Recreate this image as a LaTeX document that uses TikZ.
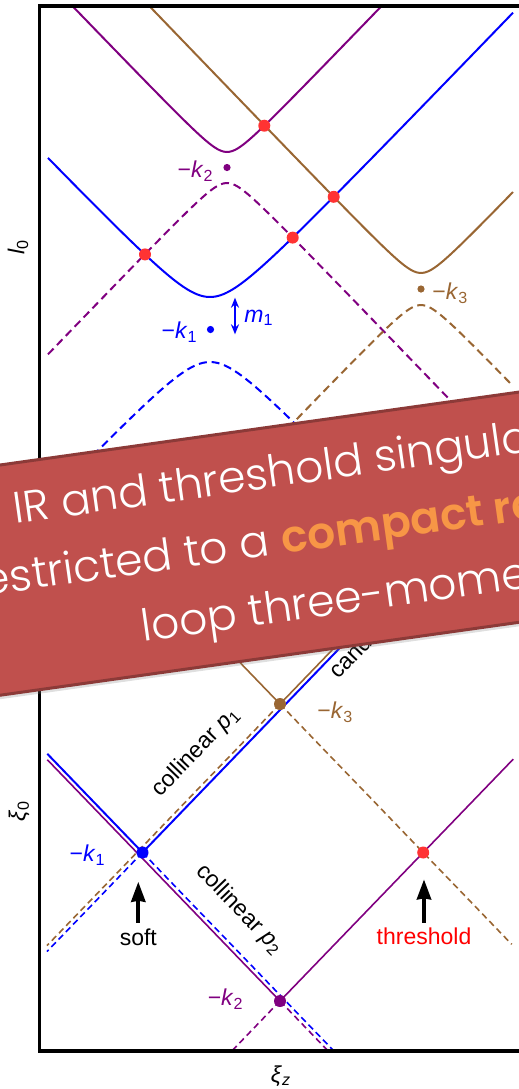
\documentclass[tikz,border=0pt]{standalone}
\usepackage{fontspec}
\setsansfont{Liberation Sans}
\newfontfamily\bannerfont{Poppins Light}[BoldFont={Poppins SemiBold}]
\usetikzlibrary{arrows.meta, shadows, positioning}
\definecolor{lineblue}{rgb}{0,0,1}
\definecolor{linepurple}{rgb}{0.5,0,0.5}
\definecolor{linebrown}{rgb}{0.6,0.4,0.2}
\definecolor{dotred}{rgb}{1,0.2,0.2}
\definecolor{bannerred}{RGB}{192,80,77}
\definecolor{bannerdark}{RGB}{140,58,56}
\definecolor{bannerorange}{RGB}{247,150,70}
\tikzstyle{frame} = [line width=1.75pt]
\tikzstyle{solidcurve} = [line width=1pt]
\tikzstyle{dashedcurve} = [line width=1pt, dash pattern=on 4pt off 2.4pt]
\tikzstyle{thinline} = [line width=0.8pt]
\tikzstyle{thindashed} = [line width=0.8pt, dash pattern=on 3.2pt off 2pt]
\tikzstyle{bigdot} = [circle, inner sep=0pt, minimum size=6pt]
\tikzstyle{smalldot} = [circle, inner sep=0pt, minimum size=3.6pt]
\tikzstyle{lab} = [inner sep=0pt, font=\sffamily\fontsize{11.5}{13}\selectfont]
\tikzstyle{arrow} = [line width=2pt, -{Stealth[length=10pt, width=7pt, inset=0.5pt]}]
\tikzstyle{dblarrow} = [line width=1pt, {Stealth[length=5pt, width=4pt]}-{Stealth[length=5pt, width=4pt]}]
\tikzstyle{banner} = [fill=bannerred, draw=bannerdark, line width=1.5pt, drop shadow={opacity=0.25, shadow xshift=0pt, shadow yshift=-2pt}]
\tikzstyle{bannertext} = [inner sep=0pt, transform shape, text=white, font=\bannerfont\fontsize{22}{26}\selectfont]

\newcommand{\negk}[1]{−\textit{k}\textsubscript{#1}}

\begin{document}
\begin{tikzpicture}[x=0.5pt, y=-0.5pt]
\useasboundingbox (0,0) rectangle (519,1089);
\clip (0,0) rectangle (519,1089);

% Massive case: hyperbolas
\begin{scope}
\clip (39.5,6) rectangle (560,530);
\draw[solidcurve, lineblue] plot[domain=48:513, samples=160, smooth] (\x, {329.5-10.4*sqrt(((\x-210)/10)*((\x-210)/10)+9.766)});
\draw[dashedcurve, lineblue] plot[domain=48:513, samples=160, smooth] (\x, {329.5+10.4*sqrt(((\x-210)/10)*((\x-210)/10)+9.766)});
\draw[solidcurve, linepurple] plot[domain=48:513, samples=160, smooth] (\x, {167.5-10.4*sqrt(((\x-227)/10)*((\x-227)/10)+2.22)});
\draw[dashedcurve, linepurple] plot[domain=48:513, samples=160, smooth] (\x, {167.5+10.4*sqrt(((\x-227)/10)*((\x-227)/10)+2.22)});
\draw[solidcurve, linebrown] plot[domain=48:513, samples=160, smooth] (\x, {289-10.4*sqrt(((\x-421)/10)*((\x-421)/10)+2.372)});
\draw[dashedcurve, linebrown] plot[domain=48:513, samples=160, smooth] (\x, {289+10.4*sqrt(((\x-421)/10)*((\x-421)/10)+2.372)});
\end{scope}
\draw[frame] (39.5,6) rectangle (560,530);

\node[bigdot, fill=dotred] (rone) at (264.3,125.7) {};
\node[bigdot, fill=dotred] (rtwo) at (333.7,196.8) {};
\node[bigdot, fill=dotred] (rthree) at (292.7,237.6) {};
\node[bigdot, fill=dotred] (rfour) at (145,254.4) {};
\node[smalldot, fill=linepurple] (ktwo) at (227,167.5) {};
\node[smalldot, fill=lineblue] (kone) at (210.5,329.5) {};
\node[smalldot, fill=linebrown] (kthree) at (421,289) {};

\node[lab, text=linepurple, anchor=east] (ktwolab) at (214,171) {\negk{2}};
\node[lab, text=linebrown, anchor=west] (kthreelab) at (432,293) {\negk{3}};
\node[lab, text=lineblue, anchor=east] (konelab) at (198,332) {\negk{1}};
\coordinate (mtop) at (235,297.7);
\coordinate (mbot) at (235,334.3);
\draw[dblarrow, lineblue] (mtop) -- (mbot);
\node[lab, text=lineblue, anchor=west] (mlab) at (244,318) {\textit{m}\textsubscript{1}};
\node[lab, rotate=90] (lzero) at (18,247) {\textit{l}\textsubscript{0}};

% Massless case: light cones
\coordinate (B) at (142.5,852.5);
\coordinate (P) at (280,1001);
\coordinate (K) at (280,704);
\coordinate (T) at (423.2,852.5);
\coordinate (bul) at (47.3,753.8);
\coordinate (bur) at (424.6,560);
\coordinate (bdl) at (47,951.5);
\coordinate (bdr) at (342.6,1060);
\coordinate (pul) at (47.3,759.7);
\coordinate (pur) at (513.3,759.1);
\coordinate (pdl) at (223.1,1060);
\coordinate (pdr) at (336.9,1060);
\coordinate (kul) at (141.1,560);
\coordinate (kur) at (418.9,560);
\coordinate (kdl) at (47,945.6);
\coordinate (kdr) at (511.7,944.3);
\begin{scope}
\clip (39.5,575) rectangle (560,1051);
\draw[thindashed, linebrown] (K) -- (kdl);
\draw[thindashed, linebrown] (K) -- (kdr);
\draw[thinline, linebrown] (K) -- (kul);
\draw[thinline, linebrown] (K) -- (kur);
\draw[thinline, linepurple] (P) -- (pul);
\draw[thinline, linepurple] (P) -- (pur);
\draw[thindashed, linepurple] (P) -- (pdl);
\draw[thindashed, linepurple] (P) -- (pdr);
\draw[solidcurve, lineblue] (B) -- (bul);
\draw[solidcurve, lineblue] (B) -- (bur);
\draw[thindashed, lineblue] (B) -- (bdl);
\draw[thindashed, lineblue] (B) -- (bdr);
\end{scope}
\draw[frame] (39.5,575) rectangle (560,1051);

\node[bigdot, fill=lineblue] (bdot) at (B) {};
\node[bigdot, fill=linepurple] (pdot) at (P) {};
\node[bigdot, fill=linebrown] (kdot) at (K) {};
\node[bigdot, fill=dotred] (tdot) at (T) {};

\node[lab, text=lineblue, anchor=east] (blab) at (106,855) {\negk{1}};
\node[lab, text=linepurple, anchor=east] (plab) at (244,999) {\negk{2}};
\node[lab, text=linebrown, anchor=west] (klab) at (317,712) {\negk{3}};
\node[lab, rotate=46, anchor=base west] (colone) at (160,798) {collinear \textit{p}\textsubscript{1}};
\node[lab, rotate=-46, anchor=base west] (coltwo) at (195,872) {collinear \textit{p}\textsubscript{2}};
\node[lab, rotate=46, anchor=base west] (cand) at (338,680) {cand};
\node[lab, anchor=base] (soft) at (138.3,945) {soft};
\node[lab, anchor=base, text=red] (thr) at (424,944) {threshold};
\coordinate (softtail) at (138.3,922.7);
\coordinate (softtip) at (138.3,881.7);
\coordinate (thrtail) at (424,922.7);
\coordinate (thrtip) at (424,879.3);
\draw[arrow] (softtail) -- (softtip);
\draw[arrow] (thrtail) -- (thrtip);
\node[lab, rotate=90] (xizero) at (19,811) {\textit{ξ}\textsubscript{0}};
\node[lab] (xiz) at (281,1076) {\textit{ξ}\textsubscript{\textit{z}}};

% Banner
\begin{scope}[shift={(0,465)}, rotate=8]
\filldraw[banner] (-60,0) -- (640,0) -- (640,228) -- (-60,228) -- cycle;
\node[bannertext, anchor=base west] (lineone) at (7,60.3) {IR and threshold singula};
\node[bannertext, anchor=base east] (linetwoa) at (256,127.5) {estricted to a};
\node[bannertext, anchor=base west, text=bannerorange, font=\bannerfont\bfseries\fontsize{22}{26}\selectfont] (linetwob) at (268,127.5) {compact re};
\node[bannertext, anchor=base west] (linethree) at (117,195.2) {loop three-mome};
\end{scope}

\end{tikzpicture}
\end{document}
